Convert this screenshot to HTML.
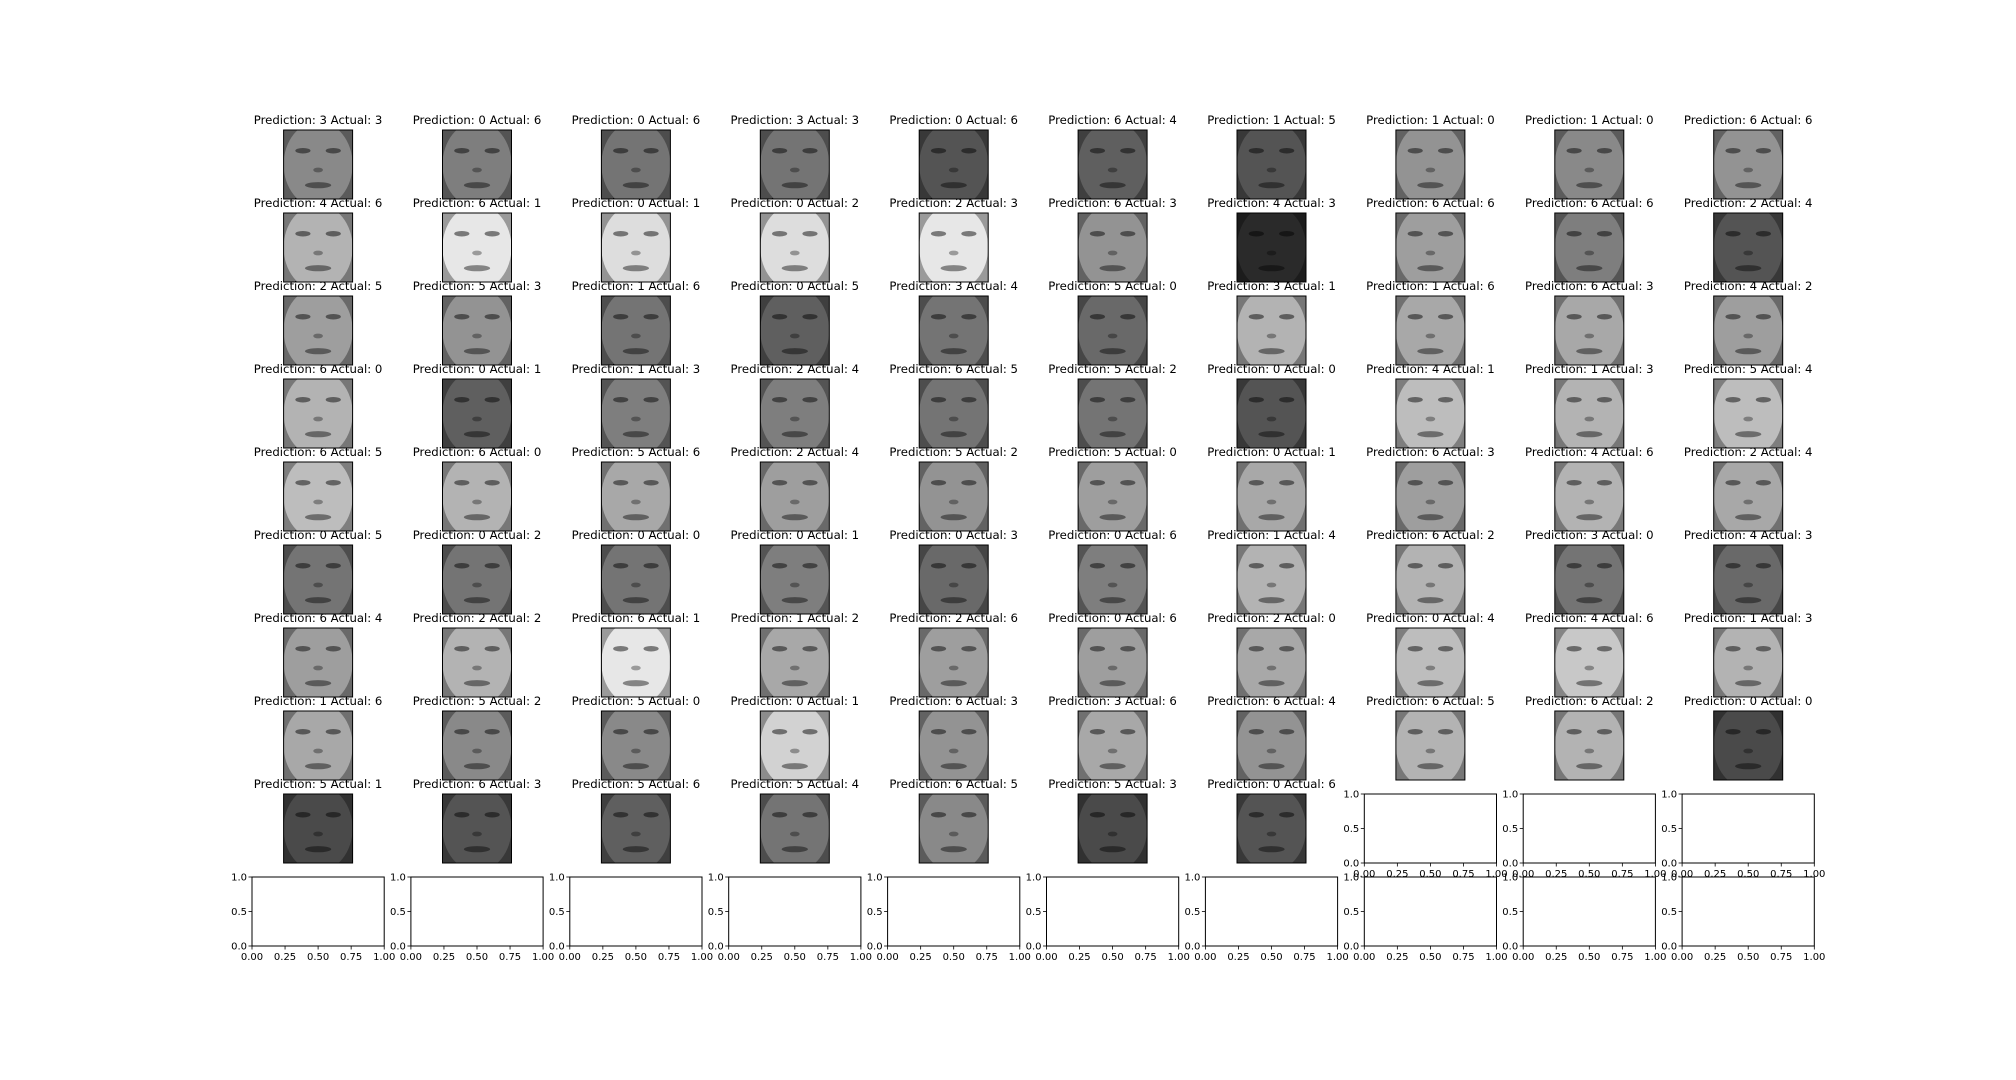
<!DOCTYPE html>
<html><head><meta charset="utf-8"><title>Predictions grid</title>
<style>
html,body{margin:0;padding:0;background:#fff;}
svg{display:block;}
text{font-family:"DejaVu Sans","Liberation Sans",sans-serif;fill:#000;}
</style></head>
<body>
<svg id="fig" width="2016" height="1080" viewBox="0 0 2016 1080" xmlns="http://www.w3.org/2000/svg">
<defs id="defs"></defs>
<rect width="2016" height="1080" fill="#fff"/>
<g id="imgs"></g>
<g id="titles"></g>
</svg>
<script>
const predictions = [3,0,0,3,0,6,1,1,1,6, 4,6,0,0,2,6,4,6,6,2, 2,5,1,0,3,5,3,1,6,4, 6,0,1,2,6,5,0,4,1,5, 6,6,5,2,5,5,0,6,4,2, 0,0,0,0,0,0,1,6,3,4, 6,2,6,1,2,0,2,0,4,1, 1,5,5,0,6,3,6,6,6,0, 5,6,5,5,6,5,0];
const actuals     = [3,6,6,3,6,4,5,0,0,6, 6,1,1,2,3,3,3,6,6,4, 5,3,6,5,4,0,1,6,3,2, 0,1,3,4,5,2,0,1,3,4, 5,0,6,4,2,0,1,3,6,4, 5,2,0,1,3,6,4,2,0,3, 4,2,1,2,6,6,0,4,6,3, 6,2,0,1,3,6,4,5,2,0, 1,3,6,4,5,3,6];
const brightness  = [130,120,110,110,80,90,80,140,130,140, 170,220,210,210,220,140,40,150,120,80, 150,140,110,90,110,100,170,160,160,150, 170,90,120,120,110,110,80,180,170,180, 180,170,160,150,140,150,160,150,170,160, 110,110,110,120,100,120,170,170,110,100, 150,170,220,160,150,150,160,180,190,170, 160,130,130,200,140,160,140,170,170,70, 70,80,90,110,130,70,80];
const xTicks = [0,0.25,0.5,0.75,1];
const xTickLabels = ["0.00","0.25","0.50","0.75","1.00"];
const yTicks = [0,0.5,1];
const yTickLabels = ["0.0","0.5","1.0"];

const NS = "http://www.w3.org/2000/svg";
const fig = document.getElementById('fig');
const defs = document.getElementById('defs');
const imgs = document.getElementById('imgs');
const titles = document.getElementById('titles');
const NCOL = 10, NROW = 10;
const LEFT = 252, AXW = 132.2, PX = 158.9;
const TOP = 130, AXH = 69, PY = 83.0;

function mk(tag, attrs, parent){
  const e = document.createElementNS(NS, tag);
  for (const k in attrs) e.setAttribute(k, attrs[k]);
  parent.appendChild(e);
  return e;
}
function g(v){ v=Math.max(0,Math.min(255,Math.round(v))); return `rgb(${v},${v},${v})`; }

for (let r = 0; r < NROW; r++) {
  for (let c = 0; c < NCOL; c++) {
    const i = r*NCOL + c;
    const x0 = LEFT + c*PX, y0 = TOP + r*PY;
    const grp = mk('g', {}, imgs);
    if (i < predictions.length) {
      
      
      const s = AXH, fx = x0 + (AXW - s)/2, fy = y0;
      const b = brightness[i];
      const ttl = mk('text', {x: x0 + AXW/2, y: y0 - 6, 'font-size': 11.7, 'text-anchor': 'middle'}, titles);
      ttl.textContent = 'Prediction: ' + predictions[i] + ' Actual: ' + actuals[i];
      
      
      const cp = mk('clipPath', {id: 'clip' + i}, defs);
      mk('rect', {x: fx, y: fy, width: s, height: s}, cp);
      const img = mk('g', {'clip-path': 'url(#clip' + i + ')'}, grp);
      
      
      mk('rect', {x: fx, y: fy, width: s, height: s, fill: g(b*0.7)}, img);
      mk('ellipse', {cx: fx+s/2, cy: fy+s*0.5, rx: s*0.5, ry: s*0.62, fill: g(b*1.05)}, img);
      mk('ellipse', {cx: fx+s*0.28, cy: fy+s*0.3, rx: s*0.11, ry: s*0.04, fill: g(b*0.55)}, img);
      mk('ellipse', {cx: fx+s*0.72, cy: fy+s*0.3, rx: s*0.11, ry: s*0.04, fill: g(b*0.55)}, img);
      mk('ellipse', {cx: fx+s*0.5, cy: fy+s*0.58, rx: s*0.07, ry: s*0.035, fill: g(b*0.7)}, img);
      mk('ellipse', {cx: fx+s*0.5, cy: fy+s*0.8, rx: s*0.19, ry: s*0.045, fill: g(b*0.6)}, img);
      mk('rect', {x: fx, y: fy, width: s, height: s, fill: 'none', stroke: '#000', 'stroke-width': 1}, grp);
    } else {
      
      
      const sx = v => x0 + v*AXW, sy = v => y0 + AXH - v*AXH;
      mk('rect', {x: x0, y: y0, width: AXW, height: AXH, fill: '#fff', stroke: '#000', 'stroke-width': 1}, grp);
      xTicks.forEach((t, k) => {
        mk('line', {x1: sx(t), x2: sx(t), y1: y0+AXH, y2: y0+AXH+3.5, stroke: '#000', 'stroke-width': 0.8}, grp);
        const tl = mk('text', {x: sx(t), y: y0+AXH+14, 'font-size': 10, 'text-anchor': 'middle'}, grp);
        tl.textContent = xTickLabels[k];
        
        
      });
      yTicks.forEach((t, k) => {
        mk('line', {x1: x0-3.5, x2: x0, y1: sy(t), y2: sy(t), stroke: '#000', 'stroke-width': 0.8}, grp);
        const tl = mk('text', {x: x0-5, y: sy(t)+3.6, 'font-size': 10, 'text-anchor': 'end'}, grp);
        tl.textContent = yTickLabels[k];
        
        
      });
    }
  }
}
</script>
</body></html>
